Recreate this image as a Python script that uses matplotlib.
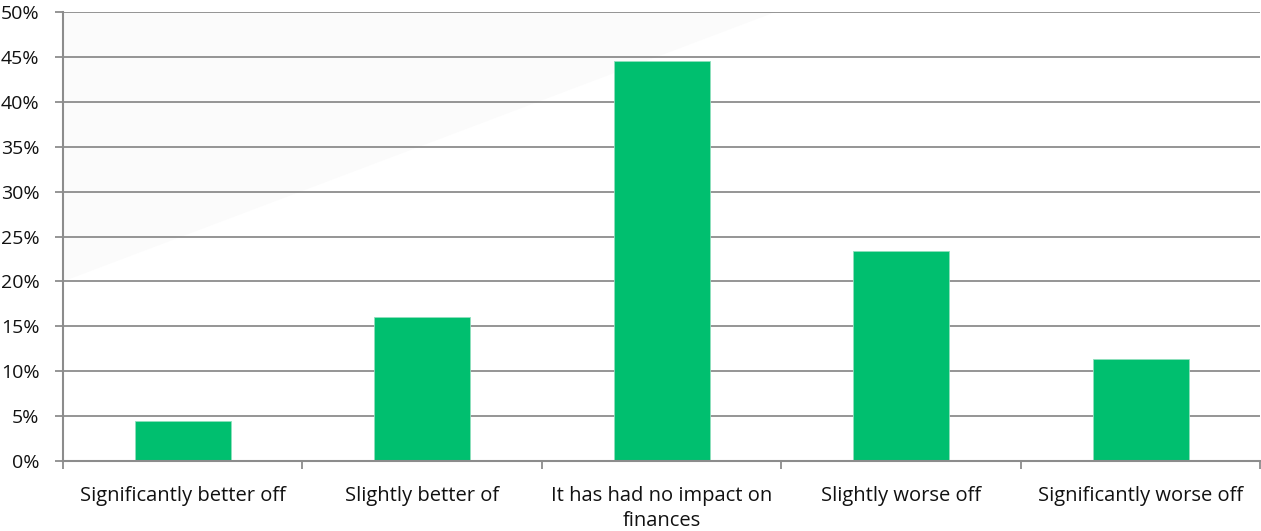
import matplotlib.pyplot as plt
from matplotlib.patches import Polygon
from matplotlib.ticker import FuncFormatter, FixedLocator
import numpy as np

categories = ["Significantly better off", "Slightly better of",
              "It has had no impact on\nfinances", "Slightly worse off",
              "Significantly worse off"]
values = [4.5, 16.0, 44.5, 23.4, 11.4]
y_ticks = [0, 5, 10, 15, 20, 25, 30, 35, 40, 45, 50]

plt.rcParams['font.family'] = ['Open Sans', 'DejaVu Sans']

fig = plt.figure(figsize=(12.61, 5.31), dpi=100)
ax = fig.add_axes([63 / 1261, 1 - 461 / 531, 1 - 63 / 1261 - 0.0005, 449 / 531])

# faint diagonal shading in the upper left of the plot area
shade = Polygon([(0, 1), (0.595, 1), (0, 0.40)], closed=True,
                transform=ax.transAxes, facecolor='#fbfbfb',
                edgecolor='none', zorder=0)
ax.add_patch(shade)

x = np.arange(len(categories))
ax.bar(x, values, width=0.4, color='#00bf6f', edgecolor='#8fe0bd',
       linewidth=0.6, zorder=3)

ax.set_xlim(-0.5, len(categories) - 0.5)
ax.set_ylim(0, 50)
ax.set_yticks(y_ticks)
ax.yaxis.set_major_formatter(FuncFormatter(lambda v, p: f"{int(v)}%"))
ax.grid(axis='y', color='#8c8c8c', linewidth=1.3, zorder=1)

ax.xaxis.set_major_locator(FixedLocator(np.arange(-0.5, len(categories), 1.0)))
ax.xaxis.set_minor_locator(FixedLocator(x))
ax.set_xticklabels([''] * (len(categories) + 1))
ax.set_xticklabels(categories, minor=True, linespacing=1.35)
ax.tick_params(axis='x', which='major', length=6, width=1.3, color='#8c8c8c')
ax.tick_params(axis='x', which='minor', length=0, pad=18, labelsize=14.5,
               labelcolor='#111111')
ax.tick_params(axis='y', length=6, width=1.3, color='#8c8c8c',
               labelsize=14, labelcolor='#111111', pad=11)

for side in ['top', 'right']:
    ax.spines[side].set_visible(False)
for side in ['left', 'bottom']:
    ax.spines[side].set_color('#8c8c8c')
    ax.spines[side].set_linewidth(1.5)
    ax.spines[side].set_zorder(4)

fig.savefig('out.png', dpi=100)
